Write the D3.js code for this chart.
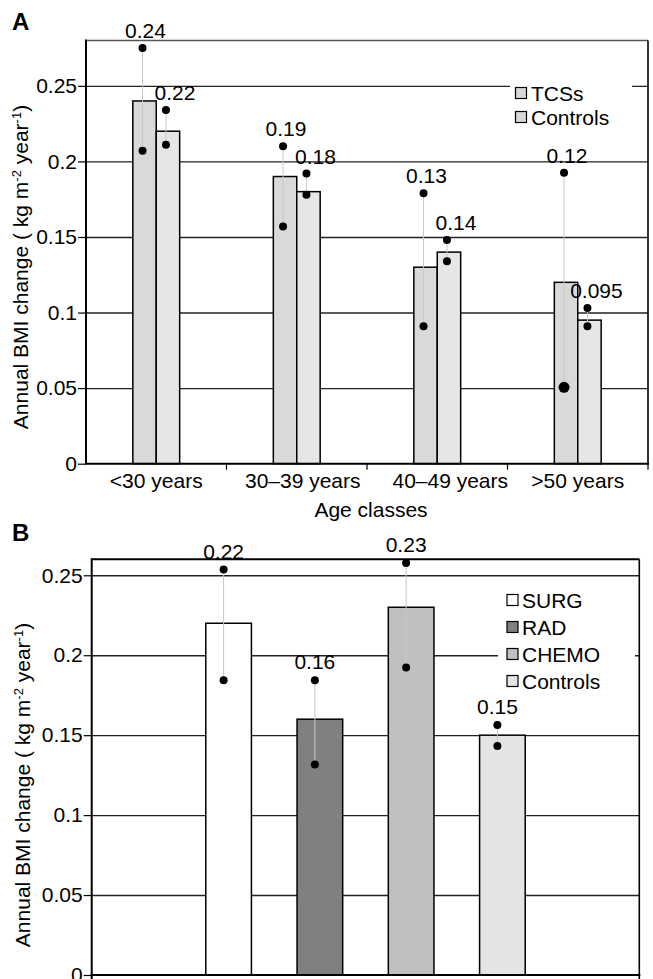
<!DOCTYPE html>
<html>
<head>
<meta charset="utf-8">
<script src="https://cdn.jsdelivr.net/npm/d3@7"></script>
<style>
  html, body { margin: 0; padding: 0; background: #fff; }
  svg { display: block; }
  text { font-family: "Liberation Sans", Arial, Helvetica, sans-serif; fill: #000; }
</style>
</head>
<body>
<svg id="chart" width="653" height="979"></svg>
<script>
// ---------- DATA ----------
const ageClasses = ["<30 years", "30–39 years", "40–49 years", ">50 years"];
const seriesA = ["TCSs", "Controls"];
const tcsValues = [0.24, 0.19, 0.13, 0.12];
const tcsUpper = [0.275, 0.210, 0.179, 0.1925];
const tcsLower = [0.207, 0.157, 0.091, 0.0505];
const controlsValuesA = [0.22, 0.18, 0.14, 0.095];
const controlsUpperA = [0.234, 0.192, 0.148, 0.103];
const controlsLowerA = [0.211, 0.178, 0.134, 0.091];

const treatments = ["SURG", "RAD", "CHEMO", "Controls"];
const treatmentValues = [0.22, 0.16, 0.23, 0.15];
const treatmentUpper = [0.2536, 0.1844, 0.2577, 0.1563];
const treatmentLower = [0.1844, 0.1317, 0.1923, 0.1433];

const yTicks = [0, 0.05, 0.1, 0.15, 0.2, 0.25];
const yTickLabels = ["0", "0.05", "0.1", "0.15", "0.2", "0.25"];
const xTitleA = "Age classes";

// ---------- STYLE ----------
const FS = 21;
const colorsA = { "TCSs": "#d9d9d9", "Controls": "#e6e6e6" };
const colorsB = { "SURG": "#ffffff", "RAD": "#808080", "CHEMO": "#c0c0c0", "Controls": "#e4e4e4" };
const xLabelShift = { "30–39 years": 6, "40–49 years": 13 };

const svg = d3.select("#chart");

function yTitle(g, x, y) {
  const t = g.append("text")
    .attr("transform", `translate(${x},${y}) rotate(-90)`)
    .attr("text-anchor", "middle")
    .style("font-size", FS + "px");
  t.append("tspan").text("Annual BMI change ( kg m");
  t.append("tspan").attr("baseline-shift", "super").style("font-size", "13px").text("-2");
  t.append("tspan").text(" year");
  t.append("tspan").attr("baseline-shift", "super").style("font-size", "13px").text("-1");
  t.append("tspan").text(")");
}

function drawGrid(g, y, x0, x1) {
  g.append("g")
    .attr("transform", `translate(${x0},0)`)
    .call(d3.axisLeft(y).tickValues(yTicks.filter(d => d > 0)).tickSize(-(x1 - x0)).tickFormat(""))
    .call(s => s.select(".domain").remove())
    .call(s => s.selectAll("line").attr("stroke", "#222").attr("stroke-width", 1.4));
}

function drawYAxisLabels(g, y, x0) {
  g.append("g")
    .attr("transform", `translate(${x0},0)`)
    .call(d3.axisLeft(y).tickValues(yTicks).tickSize(8).tickPadding(1)
      .tickFormat((d, i) => yTickLabels[i]))
    .call(s => s.select(".domain").remove())
    .call(s => s.selectAll("line").attr("stroke", "#000").attr("stroke-width", 1.2))
    .call(s => s.selectAll("text").style("font-size", FS + "px")
      .style("font-family", '"Liberation Sans", Arial, sans-serif').attr("fill", "#000"));
}

function errDots(g, x, yTop, yBot, bigLower) {
  g.append("line").attr("x1", x).attr("x2", x).attr("y1", yTop).attr("y2", yBot)
    .attr("stroke", "#c8c8c8").attr("stroke-width", 1);
  g.append("circle").attr("cx", x).attr("cy", yTop).attr("r", 4).attr("fill", "#000");
  g.append("circle").attr("cx", x).attr("cy", yBot).attr("r", bigLower ? 5.5 : 4).attr("fill", "#000");
}

// ================= PANEL A =================
{
  const L = 86, R = 648, T = 40.5, B = 463.7;
  const gA = svg.append("g");
  const y = d3.scaleLinear().domain([0, 0.28]).range([B, T]);
  const x = d3.scaleBand().domain(ageClasses).range([L, R]);
  const xs = d3.scaleBand().domain(seriesA).range([x.bandwidth() / 3, x.bandwidth() * 2 / 3]);

  drawGrid(gA, y, L, R);

  const lg = gA.append("g");
  lg.append("rect").attr("x", 510).attr("y", 78).attr("width", 122).attr("height", 50).attr("fill", "#fff");

  gA.append("line").attr("x1", L).attr("x2", R).attr("y1", T).attr("y2", T).attr("stroke", "#555").attr("stroke-width", 1.6);
  gA.append("line").attr("x1", R).attr("x2", R).attr("y1", T).attr("y2", B).attr("stroke", "#000").attr("stroke-width", 1.6);

  const rows = ageClasses.map((c, i) => ({
    c,
    vals: [
      { s: "TCSs", v: tcsValues[i], up: tcsUpper[i], lo: tcsLower[i] },
      { s: "Controls", v: controlsValuesA[i], up: controlsUpperA[i], lo: controlsLowerA[i] }
    ]
  }));

  rows.forEach(r => {
    const gx = x(r.c);
    r.vals.forEach(d => {
      gA.append("rect")
        .attr("x", gx + xs(d.s)).attr("y", y(d.v))
        .attr("width", xs.bandwidth()).attr("height", y(0) - y(d.v))
        .attr("fill", colorsA[d.s]).attr("stroke", "#000").attr("stroke-width", 1.5);
    });
    r.vals.forEach(d => {
      const cx = gx + xs(d.s) + xs.bandwidth() / 2 - 2;
      errDots(gA, cx, y(d.up), y(d.lo), r.c === ">50 years" && d.s === "TCSs");
      gA.append("text")
        .attr("x", cx + (d.s === "TCSs" ? 3 : 9)).attr("y", y(d.up) - 10)
        .attr("text-anchor", "middle").style("font-size", FS + "px")
        .text(String(d.v));
    });
  });

  gA.append("line").attr("x1", L).attr("x2", L).attr("y1", T - 1).attr("y2", B).attr("stroke", "#000").attr("stroke-width", 2);
  gA.append("line").attr("x1", L - 1).attr("x2", R + 1).attr("y1", B).attr("y2", B).attr("stroke", "#000").attr("stroke-width", 2);

  drawYAxisLabels(gA, y, L);

  const gx = gA.append("g").attr("transform", `translate(0,${B})`);
  gx.selectAll("line.tk").data(ageClasses.slice(1).concat(["_end"]))
    .join("line")
    .attr("x1", d => d === "_end" ? R : x(d)).attr("x2", d => d === "_end" ? R : x(d))
    .attr("y1", 0).attr("y2", 6).attr("stroke", "#000").attr("stroke-width", 1.2);
  gx.selectAll("text").data(ageClasses).join("text")
    .attr("x", d => x(d) + x.bandwidth() / 2 + (xLabelShift[d] || 0)).attr("y", 24)
    .attr("text-anchor", "middle").style("font-size", FS + "px").text(d => d);

  gA.append("text").attr("x", (L + R) / 2 + 4).attr("y", 517).attr("text-anchor", "middle")
    .style("font-size", FS + "px").text(xTitleA);

  yTitle(gA, 28, 267);

  gA.append("text").attr("x", 12).attr("y", 30).style("font-size", "24px").style("font-weight", "bold").text("A");

  seriesA.forEach((s, i) => {
    lg.append("rect").attr("x", 515.5).attr("y", 87.5 + i * 24).attr("width", 11).attr("height", 11)
      .attr("fill", colorsA["TCSs"]).attr("stroke", "#000").attr("stroke-width", 1.2);
    lg.append("text").attr("x", 531).attr("y", 100.5 + i * 24).style("font-size", FS + "px").text(s);
  });
}

// ================= PANEL B =================
{
  const L = 91.7, R = 639.3, T = 559.3, B = 975;
  const gB = svg.append("g");
  const y = d3.scaleLinear().domain([0, 0.26]).range([B, T]);
  const step = (R - L) / 6;
  const x = d3.scaleBand().domain(treatments).range([L + step, R - step]).paddingInner(0.5).paddingOuter(0.25);

  drawGrid(gB, y, L, R);

  const lg = gB.append("g");
  lg.append("rect").attr("x", 498).attr("y", 585).attr("width", 137).attr("height", 110).attr("fill", "#fff");

  gB.append("line").attr("x1", L).attr("x2", R).attr("y1", T).attr("y2", T).attr("stroke", "#000").attr("stroke-width", 2);
  gB.append("line").attr("x1", R).attr("x2", R).attr("y1", T).attr("y2", 979).attr("stroke", "#000").attr("stroke-width", 1.6);

  treatments.forEach((t, i) => {
    gB.append("rect")
      .attr("x", x(t)).attr("y", y(treatmentValues[i]))
      .attr("width", x.bandwidth()).attr("height", y(0) - y(treatmentValues[i]))
      .attr("fill", colorsB[t]).attr("stroke", "#000").attr("stroke-width", 1.5);
  });
  treatments.forEach((t, i) => {
    const cx = x(t) + x.bandwidth() / 2 - 5;
    errDots(gB, cx, y(treatmentUpper[i]), y(treatmentLower[i]), false);
    gB.append("text").attr("x", cx).attr("y", y(treatmentUpper[i]) - 11)
      .attr("text-anchor", "middle").style("font-size", FS + "px").text(String(treatmentValues[i]));
  });

  gB.append("line").attr("x1", L).attr("x2", L).attr("y1", T - 1).attr("y2", 979).attr("stroke", "#000").attr("stroke-width", 2);
  gB.append("line").attr("x1", L - 1).attr("x2", R + 1).attr("y1", B).attr("y2", B).attr("stroke", "#000").attr("stroke-width", 2);

  drawYAxisLabels(gB, y, L);

  yTitle(gB, 30, 785);

  gB.append("text").attr("x", 12).attr("y", 541).style("font-size", "24px").style("font-weight", "bold").text("B");

  treatments.forEach((t, i) => {
    lg.append("rect").attr("x", 507).attr("y", 594.5 + i * 27).attr("width", 11).attr("height", 11)
      .attr("fill", colorsB[t]).attr("stroke", "#000").attr("stroke-width", 1.2);
    lg.append("text").attr("x", 522).attr("y", 607.5 + i * 27).style("font-size", FS + "px").text(t);
  });
}
</script>
</body>
</html>
